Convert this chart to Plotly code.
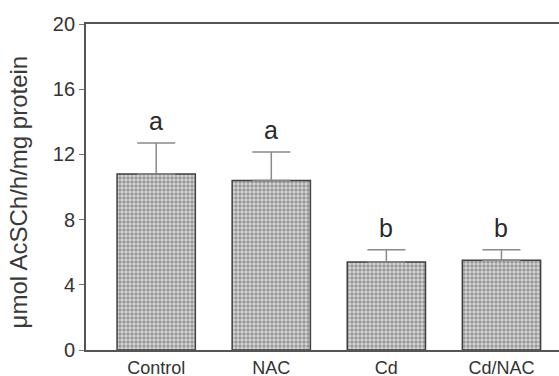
import plotly.graph_objects as go

categories = ["Control", "NAC", "Cd", "Cd/NAC"]
means = [10.8, 10.4, 5.4, 5.5]
errors = [1.9, 1.75, 0.75, 0.65]
letters = ["a", "a", "b", "b"]
y_ticks = [0, 4, 8, 12, 16, 20]
y_title = "μmol AcSCh/h/mg protein"

fig = go.Figure()
fig.add_trace(go.Bar(
    x=categories, y=means,
    marker=dict(
        color="#d4d4d4",
        line=dict(color="#404040", width=1.5),
        pattern=dict(shape=".", fgcolor="#555555", bgcolor="#d8d8d8", size=4, solidity=0.55),
    ),
    error_y=dict(type="data", array=errors, arrayminus=[0]*len(errors), symmetric=False,
                 color="#8a8a8a", thickness=1.5, width=19),
    width=0.68,
))

for c, m, e, l in zip(categories, means, errors, letters):
    fig.add_annotation(x=c, y=m + e, text=l, showarrow=False, yanchor="bottom", yshift=6,
                       font=dict(size=25, color="#2a2a2a"))

fig.add_annotation(xref="paper", yref="paper", x=-0.142, y=0.486, text=y_title,
                   textangle=-90, showarrow=False, xanchor="center", yanchor="middle",
                   font=dict(size=24, color="#3a3a3a"))

fig.update_layout(
    width=559, height=376,
    margin=dict(l=86, r=0, t=24, b=26),
    paper_bgcolor="white", plot_bgcolor="white",
    font=dict(family="Liberation Sans, Arial, sans-serif", color="#333333", size=14),
    showlegend=False,
    xaxis=dict(range=[-0.61, 3.5], showline=True, linecolor="#555555", linewidth=1.8,
               mirror=True, ticks="", showgrid=False, zeroline=False, automargin=False,
               tickfont=dict(size=18, color="#333333")),
    yaxis=dict(range=[0, 20], tickvals=y_ticks, showline=True, linecolor="#555555", linewidth=1.8,
               ticks="outside", ticklen=5, tickcolor="#777777", showgrid=False, zeroline=False,
               automargin=False, tickfont=dict(size=20, color="#333333")),
)

fig.write_html("out.html", config={"displayModeBar": False},
               post_script="document.body.style.margin='0';document.body.style.overflow='hidden';")
